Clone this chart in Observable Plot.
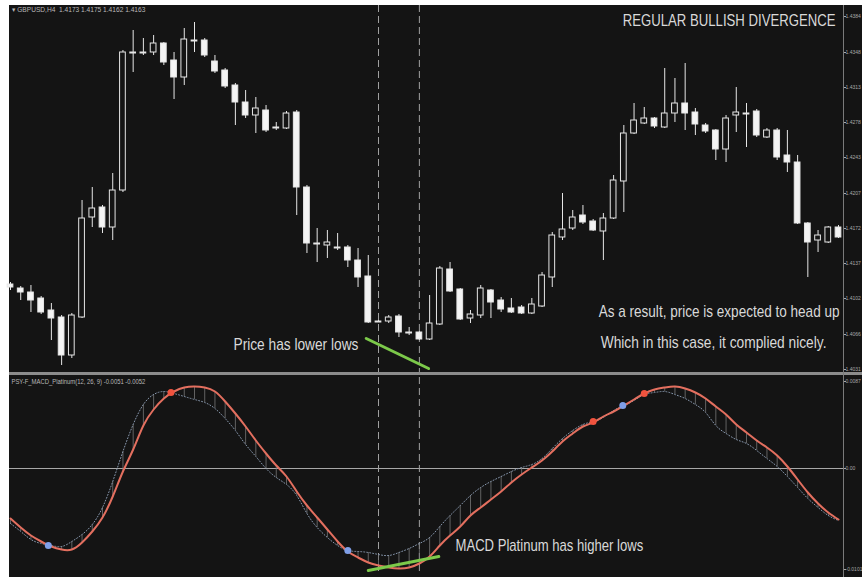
<!DOCTYPE html>
<html><head><meta charset="utf-8">
<script src="https://cdn.jsdelivr.net/npm/d3@7"></script>
<script src="https://cdn.jsdelivr.net/npm/@observablehq/plot@0.6"></script>
<style>
html,body{margin:0;padding:0;background:#fff;}
#wrap{position:relative;width:862px;height:577px;background:#fff;overflow:hidden;}
#bg{position:absolute;left:9px;top:5px;width:853px;height:572px;background:#141414;}
#top{position:absolute;left:9px;top:5px;}
#bot{position:absolute;left:9px;top:377px;}
#sep{position:absolute;left:9px;top:372px;width:853px;height:3px;background:#8c8c8c;}
#axisline{position:absolute;left:843px;top:5px;width:1px;height:572px;background:#7a7a7a;}
svg{overflow:visible;}
</style>
</head><body>
<div id="wrap"><div id="bg"></div><div id="top"></div><div id="bot"></div><div id="sep"></div><div id="axisline"></div></div>
<script>
// ---- price candles (GBPUSD H4), one entry per bar ----
const open = [1.4116,1.4112,1.4108,1.4102,1.4090,1.4083,1.4045,1.4083,1.4183,1.4193,
1.4173,1.4210,1.4347,1.4348,1.4348,1.4357,1.4340,1.4323,1.4360,1.4360,
1.4339,1.4330,1.4315,1.4298,1.4285,1.4290,1.4273,1.4272,1.4288,1.4213,
1.4157,1.4155,1.4153,1.4153,1.4140,1.4124,1.4079,1.4079,1.4084,1.4068,
1.4068,1.4061,1.4076,1.4131,1.4111,1.4082,1.4085,1.4110,1.4100,1.4092,
1.4093,1.4087,1.4094,1.4123,1.4163,1.4172,1.4185,1.4179,1.4169,1.4182,
1.4219,1.4267,1.4277,1.4282,1.4273,1.4287,1.4297,1.4288,1.4275,1.4270,
1.4251,1.4285,1.4287,1.4289,1.4263,1.4270,1.4245,1.4238,1.4177,1.4160,
1.4158,1.4173];
const high = [1.4118,1.4114,1.4115,1.4104,1.4097,1.4085,1.4087,1.4200,1.4213,1.4195,
1.4227,1.4350,1.4370,1.4362,1.4365,1.4358,1.4348,1.4372,1.4378,1.4362,
1.4345,1.4332,1.4317,1.4310,1.4303,1.4295,1.4278,1.4289,1.4290,1.4215,
1.4172,1.4170,1.4167,1.4155,1.4152,1.4145,1.4080,1.4085,1.4086,1.4073,
1.4069,1.4105,1.4134,1.4138,1.4112,1.4090,1.4115,1.4111,1.4103,1.4102,
1.4095,1.4102,1.4128,1.4168,1.4207,1.4190,1.4195,1.4181,1.4187,1.4225,
1.4275,1.4297,1.4293,1.4283,1.4332,1.4322,1.4337,1.4292,1.4277,1.4271,
1.4285,1.4313,1.4297,1.4291,1.4272,1.4272,1.4270,1.4245,1.4178,1.4170,
1.4174,1.4175];
const low = [1.4110,1.4100,1.4088,1.4086,1.4060,1.4035,1.4042,1.4082,1.4173,1.4167,
1.4160,1.4208,1.4328,1.4345,1.4345,1.4335,1.4301,1.4315,1.4348,1.4343,
1.4327,1.4312,1.4275,1.4282,1.4267,1.4268,1.4270,1.4271,1.4185,1.4147,
1.4138,1.4142,1.4150,1.4133,1.4113,1.4077,1.4078,1.4077,1.4063,1.4065,
1.4060,1.4060,1.4075,1.4108,1.4080,1.4077,1.4082,1.4082,1.4088,1.4087,
1.4086,1.4086,1.4093,1.4113,1.4160,1.4170,1.4176,1.4169,1.4140,1.4181,
1.4188,1.4266,1.4276,1.4272,1.4272,1.4278,1.4270,1.4265,1.4267,1.4240,
1.4238,1.4268,1.4253,1.4263,1.4262,1.4240,1.4228,1.4176,1.4123,1.4148,
1.4157,1.4162];
const close = [1.4113,1.4108,1.4100,1.4088,1.4082,1.4045,1.4085,1.4182,1.4192,1.4173,
1.4210,1.4348,1.4348,1.4347,1.4357,1.4338,1.4323,1.4361,1.4359,1.4345,
1.4329,1.4314,1.4298,1.4285,1.4292,1.4270,1.4272,1.4287,1.4213,1.4157,
1.4156,1.4158,1.4152,1.4140,1.4123,1.4078,1.4078,1.4083,1.4068,1.4067,
1.4061,1.4077,1.4132,1.4109,1.4081,1.4086,1.4112,1.4098,1.4091,1.4088,
1.4087,1.4096,1.4125,1.4165,1.4171,1.4183,1.4178,1.4170,1.4182,1.4220,
1.4267,1.4280,1.4282,1.4274,1.4287,1.4297,1.4287,1.4276,1.4269,1.4251,
1.4282,1.4288,1.4286,1.4265,1.4270,1.4243,1.4238,1.4177,1.4158,1.4165,
1.4173,1.4163];
const priceTicks = [1.4384,1.4348,1.4313,1.4278,1.4243,1.4207,1.4172,1.4137,1.4102,1.4066,1.4031];

// ---- MACD Platinum (12,26,9) ----
const macd = [-0.0050,-0.0059,-0.0067,-0.0073,-0.0078,-0.0081,-0.0081,-0.0074,-0.0063,-0.0049,
-0.0028,-0.0003,0.0019,0.0043,0.0059,0.0070,0.0077,0.0081,0.0082,0.0081,
0.0077,0.0067,0.0055,0.0042,0.0028,0.0015,0.0003,-0.0008,-0.0023,-0.0037,
-0.0049,-0.0061,-0.0073,-0.0083,-0.0089,-0.0094,-0.0097,-0.0099,-0.0100,-0.0099,
-0.0095,-0.0088,-0.0077,-0.0067,-0.0058,-0.0047,-0.0039,-0.0031,-0.0023,-0.0014,
-0.0006,0.0001,0.0008,0.0017,0.0027,0.0035,0.0042,0.0046,0.0052,0.0057,
0.0063,0.0069,0.0075,0.0079,0.0081,0.0082,0.0080,0.0076,0.0070,0.0062,
0.0054,0.0044,0.0036,0.0028,0.0021,0.0013,0.0002,-0.0011,-0.0024,-0.0035,
-0.0044,-0.0051];
const signal = [-0.0055,-0.0063,-0.0071,-0.0075,-0.0077,-0.0078,-0.0073,-0.0066,-0.0056,-0.0039,
-0.0013,0.0017,0.0044,0.0064,0.0074,0.0077,0.0075,0.0072,0.0069,0.0066,
0.0060,0.0050,0.0038,0.0024,0.0012,0.0000,-0.0009,-0.0016,-0.0027,-0.0045,
-0.0059,-0.0069,-0.0077,-0.0082,-0.0083,-0.0084,-0.0086,-0.0087,-0.0084,-0.0080,
-0.0075,-0.0069,-0.0058,-0.0047,-0.0037,-0.0027,-0.0019,-0.0013,-0.0008,-0.0003,
0.0001,0.0004,0.0010,0.0020,0.0030,0.0038,0.0044,0.0047,0.0051,0.0058,
0.0063,0.0068,0.0074,0.0076,0.0077,0.0074,0.0070,0.0064,0.0056,0.0043,
0.0035,0.0029,0.0025,0.0018,0.0010,0.0002,-0.0008,-0.0019,-0.0030,-0.0039,
-0.0047,-0.0052];
const crossBar = [3.7, 15.7, 33.0, 57.0, 59.9, 62.0];
const crossValue = [-0.0077, 0.0076, -0.0082, 0.0047, 0.0063, 0.0075];
const crossKind = ["up", "down", "up", "down", "up", "down"];
const macdTicks = [0.0087, 0, -0.0101];

// ---- annotations ----
const dividerBars = [36, 40];
const priceLowsBar = [34.8, 40.9];
const priceLowsValue = [1.4062, 1.4032];
const macdLowsBar = [35.0, 41.9];
const macdLowsValue = [-0.0102, -0.0088];
const title = "REGULAR BULLISH DIVERGENCE";
const priceHeader = "\u25BE GBPUSD,H4  1.4173 1.4175 1.4162 1.4163";
const macdHeader = "PSY-F_MACD_Platinum(12, 26, 9) -0.0051 -0.0052";
const notePrice = "Price has lower lows";
const noteResult1 = "As a result, price is expected to head up";
const noteResult2 = "Which in this case, it complied nicely.";
const noteMacd = "MACD Platinum has higher lows";

const candles = open.map((o, i) => ({i, open: o, high: high[i], low: low[i], close: close[i]}));
const ind = macd.map((m, i) => ({i, macd: m, signal: signal[i]}));
const crosses = crossBar.map((b, k) => ({i: b, v: crossValue[k], kind: crossKind[k]}));
const priceLows = priceLowsBar.map((b, k) => ({i: b, v: priceLowsValue[k]}));
const macdLows = macdLowsBar.map((b, k) => ({i: b, v: macdLowsValue[k]}));

const FONT = "'Liberation Sans', Arial, sans-serif";
const TXT = "#d9d9d9";
const BG = "#141414";
const xScale = {domain: [0, 81], range: [1, 829], axis: null};
const common = {width: 853, marginLeft: 0, marginRight: 19, marginTop: 0, marginBottom: 0,
  style: {background: "transparent", color: "#a8a8a8", fontFamily: "'Liberation Sans', sans-serif", fontSize: "5px"}};

// Narrow captions: width of the original condensed typeface, height of a 16px font
const noteFont = 16;
const noteStyle = {fontFamily: FONT, fontSize: noteFont, fill: TXT, frameAnchor: "top-left", lineAnchor: "middle"};

const topPlot = Plot.plot({
  ...common,
  height: 367,
  x: xScale,
  y: {domain: [1.4028, 1.4395], range: [367, 0], axis: "right", ticks: priceTicks, tickSize: 2, tickPadding: 0,
      tickFormat: d => d.toFixed(4), label: null},
  marks: [
    Plot.ruleX(dividerBars, {stroke: "#a0a0a0", strokeWidth: 1, strokeDasharray: "7,4"}),
    Plot.ruleX(candles, {x: "i", y1: "low", y2: "high", stroke: "#e6e6e6", strokeWidth: 1}),
    Plot.rect(candles, {x1: d => d.i - 0.28, x2: d => d.i + 0.28, y1: "open", y2: "close",
      fill: d => d.close < d.open ? "#f4f4f4" : BG, stroke: "#e6e6e6", strokeWidth: 1}),
    Plot.line(priceLows, {x: "i", y: "v", stroke: "#7cc94a", strokeWidth: 3}),
    Plot.text([priceHeader], {text: d => d, frameAnchor: "top-left", dx: 2, dy: 6, lineAnchor: "middle", fill: "#b8b8b8", fontSize: 7}),
    Plot.text([title], {...noteStyle, text: d => d, textAnchor: "end", dx: 826, dy: 20}),
    Plot.text([notePrice], {...noteStyle, text: d => d, textAnchor: "start", dx: 224, dy: 344}),
    Plot.text([noteResult1], {...noteStyle, text: d => d, textAnchor: "end", dx: 830, dy: 311}),
    Plot.text([noteResult2], {...noteStyle, text: d => d, textAnchor: "end", dx: 817, dy: 342})
  ]
});
document.getElementById("top").appendChild(topPlot);

const botPlot = Plot.plot({
  ...common,
  height: 196,
  x: xScale,
  y: {domain: [-0.0105, 0.0091], range: [196, 0], axis: "right", ticks: macdTicks, tickSize: 2, tickPadding: 0,
      tickFormat: d => d === 0 ? "0.00" : d.toFixed(4), label: null},
  marks: [
    Plot.ruleY([0], {stroke: "#a8a8a8", strokeWidth: 1}),
    Plot.ruleX(dividerBars, {stroke: "#a0a0a0", strokeWidth: 1, strokeDasharray: "7,4"}),
    Plot.ruleX(ind, {x: "i", y1: "macd", y2: "signal", stroke: "#767676", strokeWidth: 0.8}),
    Plot.line(ind, {x: "i", y: "signal", stroke: "#8797ad", strokeWidth: 1, strokeDasharray: "1,2", curve: "natural"}),
    Plot.line(ind, {x: "i", y: "macd", stroke: "#e36f5f", strokeWidth: 2, curve: "natural"}),
    Plot.dot(crosses, {x: "i", y: "v", r: 3.5, fill: d => d.kind === "up" ? "#7f9fe8" : "#f0533e", stroke: "none"}),
    Plot.line(macdLows, {x: "i", y: "v", stroke: "#7cc94a", strokeWidth: 3}),
    Plot.text([macdHeader], {text: d => d, frameAnchor: "top-left", dx: 2, dy: 6, lineAnchor: "middle", fill: "#b8b8b8", fontSize: 7}),
    Plot.text([noteMacd], {...noteStyle, text: d => d, textAnchor: "start", dx: 446, dy: 173})
  ]
});
document.getElementById("bot").appendChild(botPlot);

// condense texts horizontally to the narrow widths of the original typeface
const widths = new Map([[title, [213, 16]], [notePrice, [125, 16]], [noteResult1, [241, 16]], [noteResult2, [226, 16]],
  [noteMacd, [188, 16]], [priceHeader, [134, 7]], [macdHeader, [134, 7]]]);
const ctx = document.createElement("canvas").getContext("2d");
for (const svg of [topPlot, botPlot]) {
  d3.select(svg).selectAll("text").each(function() {
    const t = this.textContent;
    if (!widths.has(t)) return;
    const [target, size] = widths.get(t);
    ctx.font = `${size}px 'Liberation Sans', Arial, sans-serif`;
    const natural = ctx.measureText(t).width;
    if (!(natural > 0)) return;
    const s = Math.min(1, target / natural);
    const ax = parseFloat(this.getAttribute("x")) || 0, ay = parseFloat(this.getAttribute("y")) || 0;
    const tr = this.getAttribute("transform") || "";
    this.setAttribute("x", 0); this.setAttribute("y", 0);
    this.setAttribute("transform", `${tr} translate(${ax} ${ay}) scale(${s.toFixed(4)} 1)`);
  });
}
</script>
</body></html>
